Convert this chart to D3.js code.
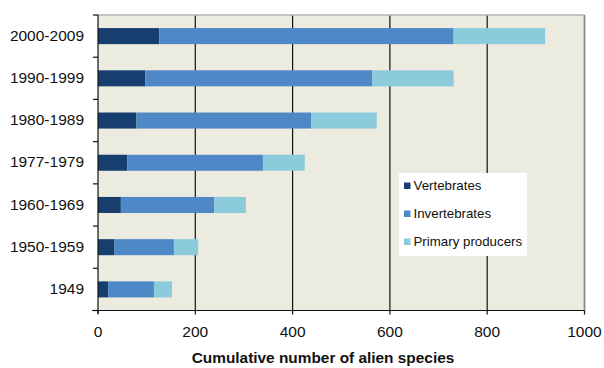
<!DOCTYPE html>
<html><head><meta charset="utf-8">
<script src="https://cdn.jsdelivr.net/npm/d3@7"></script>
<style>body{margin:0;background:#fff;}svg{display:block;font-family:"Liberation Sans",Arial,sans-serif;}</style>
</head><body><svg id="c" width="604" height="368"></svg>
<script>
const categories = ["2000-2009","1990-1999","1980-1989","1977-1979","1960-1969","1950-1959","1949"];
const vertebrates = [126, 97, 79, 60, 47, 34, 21];
const invertebrates = [605, 467, 359, 279, 192, 122, 94];
const primaryProducers = [188, 167, 135, 86, 65, 50, 37];
const seriesNames = ["Vertebrates","Invertebrates","Primary producers"];
const xTicks = [0,200,400,600,800,1000];
const colors = ["#163f70","#4f88c6","#8ccbdc"];

const svg = d3.select("#c");
const m = {l:98, r:584.5, t:15, b:310.5};
const x = d3.scaleLinear().domain([0,1000]).range([m.l, m.r]);
const y = d3.scaleBand().domain(categories).range([m.t, m.b]).paddingInner(0.62).paddingOuter(0.31);
const yb = d3.scaleBand().domain(categories).range([m.t, m.b]);

svg.append("rect").attr("x",m.l).attr("y",m.t).attr("width",m.r-m.l).attr("height",m.b-m.t).attr("fill","#ecebe0");

// gridlines
svg.append("g").selectAll("line").data(xTicks.filter(d=>d>0 && d<1000)).join("line")
  .attr("x1",d=>x(d)).attr("x2",d=>x(d)).attr("y1",m.t).attr("y2",m.b).attr("stroke","#111").attr("stroke-width",1.2);
// top & right border
svg.append("line").attr("x1",m.l).attr("x2",m.r).attr("y1",m.t).attr("y2",m.t).attr("stroke","#b5b5b5").attr("stroke-width",1.5);
svg.append("line").attr("x1",m.r).attr("x2",m.r).attr("y1",m.t).attr("y2",m.b).attr("stroke","#888").attr("stroke-width",1.8);

const rows = categories.map((c,i)=>({cat:c, Vertebrates:vertebrates[i], Invertebrates:invertebrates[i], "Primary producers":primaryProducers[i]}));
const stack = d3.stack().keys(seriesNames)(rows);
svg.append("g").selectAll("g").data(stack).join("g").attr("fill",(d,i)=>colors[i])
  .selectAll("rect").data(d=>d).join("rect")
  .attr("x",d=>x(d[0])).attr("width",d=>x(d[1])-x(d[0]))
  .attr("y",d=>y(d.data.cat)).attr("height",y.bandwidth());

// left axis
const gl = svg.append("g");
gl.append("line").attr("x1",m.l).attr("x2",m.l).attr("y1",m.t).attr("y2",m.b+3).attr("stroke","#111").attr("stroke-width",1.2);
const bounds = categories.map(c=>yb(c));
gl.selectAll("line.t").data(bounds.concat([m.b])).join("line").attr("class","t")
  .attr("x1",m.l-5).attr("x2",m.l).attr("y1",d=>d).attr("y2",d=>d).attr("stroke","#111").attr("stroke-width",1.2);
gl.selectAll("text").data(categories).join("text")
  .attr("x",84).attr("y",d=>yb(d)+yb.bandwidth()/2+0.5).attr("text-anchor","end").attr("dominant-baseline","middle")
  .attr("font-size",15.5).attr("fill","#111").text(d=>d);

// bottom axis
const gb = svg.append("g");
gb.append("line").attr("x1",m.l-6).attr("x2",m.r).attr("y1",m.b).attr("y2",m.b).attr("stroke","#111").attr("stroke-width",1.2);
gb.selectAll("line.t").data(xTicks).join("line").attr("class","t")
  .attr("x1",d=>x(d)).attr("x2",d=>x(d)).attr("y1",m.b).attr("y2",m.b+4).attr("stroke","#111").attr("stroke-width",1.2);
gb.selectAll("text").data(xTicks).join("text")
  .attr("x",d=>x(d)).attr("y",333).attr("text-anchor","middle").attr("dominant-baseline","middle")
  .attr("font-size",15.5).attr("fill","#111").text(d=>d);
svg.append("text").attr("x",323).attr("y",359).attr("text-anchor","middle").attr("dominant-baseline","middle")
  .attr("font-size",15.4).attr("font-weight","bold").attr("fill","#111").text("Cumulative number of alien species");

// legend
const lg = svg.append("g");
lg.append("rect").attr("x",399).attr("y",173).attr("width",128).attr("height",83).attr("fill","#fff");
const ly = [185.5, 213.5, 241.5];
seriesNames.forEach((n,i)=>{
  lg.append("rect").attr("x",404).attr("y",ly[i]-3).attr("width",6.5).attr("height",6.5).attr("fill",colors[i]);
  lg.append("text").attr("x",413.5).attr("y",ly[i]+0.5).attr("dominant-baseline","middle").attr("font-size",13.3).attr("fill","#111").text(n);
});
</script></body></html>
